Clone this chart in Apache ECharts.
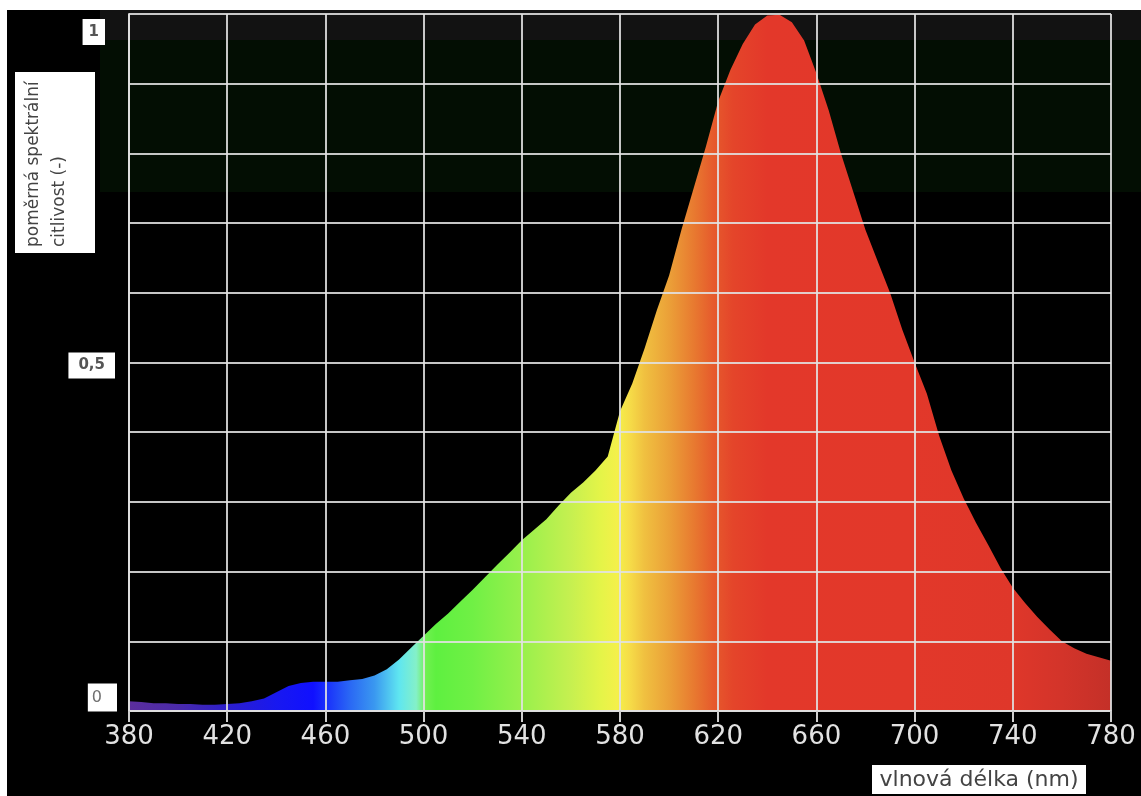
<!DOCTYPE html>
<html>
<head>
<meta charset="utf-8">
<script src="https://cdn.jsdelivr.net/npm/echarts@6/dist/echarts.min.js"></script>
<style>
html,body{margin:0;padding:0;background:#000;}
#c{width:1141px;height:796px;}
</style>
</head>
<body>
<div id="c"></div>
<script>
// ---- data ----
const wavelengths = [
  380,385,390,395,400,405,410,415,420,425,430,435,440,445,450,455,460,465,470,475,
  480,485,490,495,500,505,510,515,520,525,530,535,540,545,550,555,560,565,570,575,
  580,585,590,595,600,605,610,615,620,625,630,635,640,645,650,655,660,665,670,675,
  680,685,690,695,700,705,710,715,720,725,730,735,740,745,750,755,760,765,770,775,
  780
];
const sensitivity = [
  0.014,0.013,0.011,0.011,0.010,0.010,0.009,0.009,0.010,0.011,0.014,0.018,0.027,0.036,0.040,0.042,0.042,0.042,0.044,0.046,
  0.051,0.060,0.074,0.091,0.108,0.125,0.140,0.157,0.174,0.192,0.210,0.227,0.245,0.260,0.275,0.295,0.313,0.328,0.345,0.365,
  0.430,0.470,0.520,0.575,0.625,0.690,0.750,0.810,0.875,0.920,0.957,0.985,0.998,0.999,0.988,0.962,0.915,0.862,0.800,0.745,
  0.690,0.645,0.600,0.547,0.500,0.455,0.395,0.345,0.305,0.270,0.238,0.205,0.177,0.155,0.135,0.117,0.100,0.090,0.082,0.077,
  0.072
];
const yTickValues = [0, 0.5, 1];
const yTickLabels = ['0', '0,5', '1'];
const xAxisTitle = 'vlnová délka (nm)';
const yAxisTitle = 'poměrná spektrální\ncitlivost (-)';

// ---- styling (spectrum colours along wavelength) ----
const spectrumNm = [380, 400, 420, 440, 455, 470, 480, 490, 497, 501, 505, 520, 540, 560, 572, 579, 584, 590, 600, 610, 618, 626, 640, 700, 740, 760, 780];
const spectrumColors = ['#5c2e9c','#4a2aaa','#2c1ecc','#1818f0','#1010ff','#2a68f4','#3a98f0','#5fe6f0','#84f0c8','#70f050','#5ef040','#70f045','#98f04c','#c6f050','#e4f448','#f4f04a','#f6dc48','#f0c040','#eba038','#e87a30','#e65a2c','#e4452a','#e3382a','#e2382a','#df372a','#d3342a','#c43028'];

const chart = echarts.init(document.getElementById('c'));
const nmMin = wavelengths[0], nmMax = wavelengths[wavelengths.length - 1];
const gradientStops = spectrumNm.map((nm, i) => ({ offset: (nm - nmMin) / (nmMax - nmMin), color: spectrumColors[i] }));
const gridColor = 'rgba(225,225,225,0.88)';

chart.setOption({
  backgroundColor: '#000',
  animation: false,
  grid: { left: 129, right: 30, top: 14, bottom: 85, outerBoundsMode: 'none' },
  xAxis: {
    type: 'category',
    data: wavelengths,
    boundaryGap: false,
    z: 5,
    axisLine: { show: true, lineStyle: { color: gridColor, width: 2 } },
    axisTick: { show: true, interval: 7, length: 11, lineStyle: { color: '#cfcfcf', width: 2 } },
    axisLabel: { interval: 7, margin: 13, color: '#e2e2e2', fontFamily: 'DejaVu Sans', fontSize: 26 },
    splitLine: { show: true, interval: 7, lineStyle: { color: gridColor, width: 2 } }
  },
  yAxis: {
    type: 'value',
    min: 0, max: 1, interval: 0.1,
    z: 5,
    axisLine: { show: true, lineStyle: { color: gridColor, width: 2 } },
    axisTick: { show: false },
    axisLabel: { show: false },
    splitLine: { show: true, lineStyle: { color: gridColor, width: 2 } }
  },
  series: [{
    type: 'line',
    data: sensitivity,
    symbol: 'none',
    z: 2,
    lineStyle: { width: 0 },
    areaStyle: {
      opacity: 1,
      color: new echarts.graphic.LinearGradient(0, 0, 1, 0, gradientStops)
    }
  }]
});

// ---- decorations and labels ----
const yLabelStyle = [
  { dy: -13.5, right: 117, font: '16px DejaVu Sans', fill: '#707070', padding: [6, 15, 6, 4] },
  { dy: 3, right: 115, font: 'bold 15px DejaVu Sans', fill: '#555', padding: [5, 10, 5, 10] },
  { dy: 18, right: 105, font: 'bold 15px DejaVu Sans', fill: '#555', padding: [5, 6, 5, 6] }
];
const graphics = [
  { type: 'rect', z: -10, shape: { x: 100, y: 10, width: 1041, height: 30 }, style: { fill: '#121212' } },
  { type: 'rect', z: -10, shape: { x: 100, y: 40, width: 1041, height: 152 }, style: { fill: '#030e03' } },
  { type: 'rect', z: 20, shape: { x: 0, y: 0, width: 1141, height: 10 }, style: { fill: '#fff' } },
  { type: 'rect', z: 20, shape: { x: 0, y: 0, width: 7, height: 796 }, style: { fill: '#fff' } },
  { type: 'rect', z: 20, shape: { x: 15, y: 72, width: 80, height: 181 }, style: { fill: '#fff' } },
  { type: 'text', z: 21, x: 21, y: 247, rotation: Math.PI / 2,
    style: { text: yAxisTitle, align: 'left', verticalAlign: 'top', lineHeight: 26, font: '17px DejaVu Sans', fill: '#444' } },
  { type: 'rect', z: 20, shape: { x: 872, y: 765, width: 214, height: 29 }, style: { fill: '#fff' } },
  { type: 'text', z: 21, x: 979, y: 780,
    style: { text: xAxisTitle, align: 'center', verticalAlign: 'middle', font: '22px DejaVu Sans', fill: '#444' } }
];
yTickValues.forEach((v, i) => {
  const py = chart.convertToPixel({ yAxisIndex: 0 }, v);
  const s = yLabelStyle[i];
  graphics.push({
    type: 'text', z: 21, x: s.right, y: py + s.dy,
    style: { text: yTickLabels[i], align: 'right', verticalAlign: 'middle', font: s.font, fill: s.fill,
             backgroundColor: '#fff', padding: s.padding, lineHeight: 16 }
  });
});
chart.setOption({ graphic: graphics });
</script>
</body>
</html>
